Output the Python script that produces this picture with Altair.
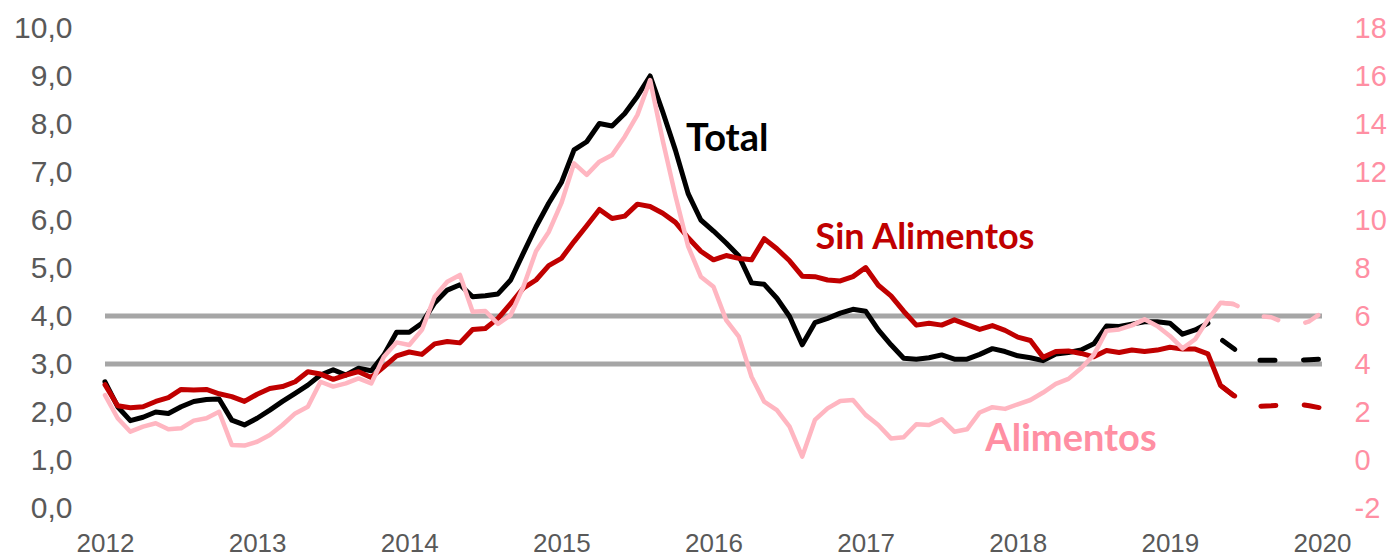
import altair as alt
import pandas as pd

# ---- data (monthly, Jan 2012 = index 0) ----
start_year = 2012
years = list(range(2012, 2021))
left_ticks = list(range(0, 11))
right_ticks = list(range(-2, 19, 2))
reference_levels = [3.0, 4.0]

# Total (left axis) – observed Jan 2012 .. Apr 2019
total_actual = [2.63, 2.11, 1.82, 1.89, 2.00, 1.97, 2.11, 2.22, 2.26, 2.27,
                1.83, 1.73, 1.87, 2.04, 2.22, 2.39, 2.56, 2.77, 2.88, 2.77,
                2.91, 2.86, 3.19, 3.66, 3.66, 3.85, 4.27, 4.54, 4.65, 4.40,
                4.42, 4.46, 4.75, 5.31, 5.86, 6.35, 6.78, 7.46, 7.63, 8.01,
                7.96, 8.22, 8.58, 9.00, 8.25, 7.45, 6.55, 6.00, 5.77, 5.52,
                5.25, 4.69, 4.66, 4.37, 3.99, 3.40, 3.86, 3.95, 4.06, 4.14,
                4.10, 3.71, 3.40, 3.12, 3.10, 3.13, 3.19, 3.10, 3.10, 3.20,
                3.32, 3.26, 3.17, 3.13, 3.07, 3.21, 3.24, 3.29, 3.42, 3.79,
                3.78, 3.83, 3.88, 3.88, 3.85, 3.62, 3.71, 3.85]
total_forecast = [3.52, 3.33, 3.12, 3.08, 3.08, 3.08, 3.08, 3.09, 3.10]
forecast_start = 88

# Sin Alimentos (left axis) – observed Jan 2012 .. Jun 2019
sin_actual = [2.57, 2.13, 2.09, 2.11, 2.22, 2.30, 2.47, 2.46, 2.47, 2.38,
              2.32, 2.22, 2.37, 2.49, 2.53, 2.63, 2.84, 2.79, 2.68, 2.77,
              2.84, 2.72, 2.94, 3.17, 3.25, 3.20, 3.42, 3.47, 3.44, 3.72,
              3.74, 3.95, 4.26, 4.58, 4.75, 5.05, 5.20, 5.55, 5.88, 6.22,
              6.03, 6.08, 6.33, 6.28, 6.14, 5.95, 5.63, 5.35, 5.17, 5.26,
              5.20, 5.17, 5.61, 5.40, 5.15, 4.83, 4.82, 4.75, 4.73, 4.82,
              5.01, 4.64, 4.42, 4.10, 3.81, 3.85, 3.81, 3.92, 3.82, 3.72,
              3.80, 3.70, 3.56, 3.49, 3.14, 3.26, 3.27, 3.22, 3.15, 3.28,
              3.24, 3.29, 3.26, 3.29, 3.35, 3.31, 3.31, 3.21, 2.55, 2.35]
sin_forecast = [2.55, 2.35, 2.20, 2.12, 2.13, 2.15, 2.17, 2.13, 2.08]

# Alimentos (right axis) – observed Jan 2012 .. Jun 2019
alim_actual = [2.70, 1.74, 1.18, 1.39, 1.53, 1.28, 1.32, 1.64, 1.74, 2.01,
               0.63, 0.60, 0.76, 1.04, 1.46, 1.94, 2.22, 3.26, 3.06, 3.19,
               3.40, 3.19, 4.30, 4.90, 4.79, 5.42, 6.80, 7.43, 7.71, 6.18,
               6.21, 5.67, 6.04, 7.22, 8.70, 9.50, 10.70, 12.36, 11.88, 12.43,
               12.71, 13.47, 14.38, 15.83, 13.30, 11.00, 8.90, 7.64, 7.22, 5.83,
               5.14, 3.47, 2.43, 2.08, 1.39, 0.14, 1.67, 2.15, 2.46, 2.50,
               1.88, 1.46, 0.90, 0.95, 1.49, 1.46, 1.70, 1.18, 1.28, 1.98,
               2.20, 2.13, 2.32, 2.50, 2.81, 3.17, 3.38, 3.82, 4.38, 5.38,
               5.44, 5.61, 5.86, 5.58, 5.17, 4.65, 5.03, 5.85, 6.55, 6.50]
alim_forecast = [6.55, 6.50, 6.25, 6.00, 5.95, 5.72, 5.60, 5.78, 6.15]

# annotation labels (text, x in years, y in axis units, colour, font size)
labels_left = [("Total", 2016.09, 7.67, "#000000", 38),
               ("Sin Alimentos", 2017.39, 5.62, "#C00000", 36)]
labels_right = [("Alimentos", 2018.35, 0.83, "#FF8FA3", 38)]

BLACK = "#000000"
RED = "#C00000"
PINK = "#FFB6C1"
PINK_TXT = "#FF8FA3"
GREY = "#A6A6A6"
AXIS_GREY = "#595959"


def frame(values, offset, field):
    return pd.DataFrame({
        "t": [start_year + (offset + k) / 12 for k in range(len(values))],
        field: values,
    })


x_enc = alt.X("t:Q",
              scale=alt.Scale(domain=[2012, 2020], nice=False, zero=False),
              axis=alt.Axis(values=years, format="d", grid=False, domain=False,
                            ticks=False, labelFont="Liberation Sans",
                            labelFontSize=26, labelColor=AXIS_GREY,
                            labelPadding=22, title=None, labelFlush=False))

y_left = alt.Y("v:Q",
               scale=alt.Scale(domain=[0, 10], nice=False, zero=False),
               axis=alt.Axis(values=left_ticks, orient="left",
                             labelExpr="replace(format(datum.value, '.1f'), '.', ',')",
                             grid=False, domain=False, ticks=False,
                             labelFont="Liberation Sans", labelFontSize=30,
                             labelColor=AXIS_GREY, labelPadding=33, title=None))

y_right = alt.Y("r:Q",
                scale=alt.Scale(domain=[-2, 18], nice=False, zero=False),
                axis=alt.Axis(values=right_ticks, orient="right",
                              labelExpr="toString(datum.value)",
                              grid=False, domain=False, ticks=False,
                              labelFont="Liberation Sans", labelFontSize=29,
                              labelColor=PINK_TXT, labelPadding=32, title=None))

DASH = [15, 28.5]
DASH_OFF = 41

grid = alt.Chart(pd.DataFrame({"v": reference_levels})).mark_rule(
    color=GREY, strokeWidth=5).encode(y=y_left)


def solid(values, offset, color, field, y_enc, width=5):
    return alt.Chart(frame(values, offset, field)).mark_line(
        color=color, strokeWidth=width, strokeCap="round", strokeJoin="round"
    ).encode(x=x_enc, y=y_enc)


def dashed(values, offset, color, field, y_enc, width=5):
    return alt.Chart(frame(values, offset, field)).mark_line(
        color=color, strokeWidth=width, strokeCap="round", strokeJoin="round",
        strokeDash=DASH, strokeDashOffset=DASH_OFF
    ).encode(x=x_enc, y=y_enc)


def text_layer(items, field, y_enc):
    df = pd.DataFrame({"label": [i[0] for i in items],
                       "t": [i[1] for i in items],
                       field: [i[2] for i in items],
                       "c": [i[3] for i in items],
                       "fs": [i[4] for i in items]})
    return alt.Chart(df).mark_text(
        font="Lato", fontWeight="bold", align="center", baseline="middle"
    ).encode(x=x_enc, y=y_enc, text="label:N",
             color=alt.Color("c:N", scale=None),
             size=alt.Size("fs:Q", scale=None))


left = alt.layer(
    grid,
    solid(total_actual, 0, BLACK, "v", y_left),
    dashed(total_forecast, forecast_start, BLACK, "v", y_left),
    solid(sin_actual, 0, RED, "v", y_left),
    dashed(sin_forecast, forecast_start, RED, "v", y_left),
    text_layer(labels_left, "v", y_left),
)

right = alt.layer(
    solid(alim_actual, 0, PINK, "r", y_right, 4.5),
    dashed(alim_forecast, forecast_start, PINK, "r", y_right, 4.5),
    text_layer(labels_right, "r", y_right),
)

chart = alt.layer(left, right).resolve_scale(y="independent").properties(
    width=1217, height=480,
    padding={"left": 97, "top": 20, "right": 65, "bottom": 48},
    autosize=alt.AutoSizeParams(type="none"),
    background="white",
).configure_view(stroke=None)

chart.save("out.html", embed_options={"renderer": "svg", "actions": False})
